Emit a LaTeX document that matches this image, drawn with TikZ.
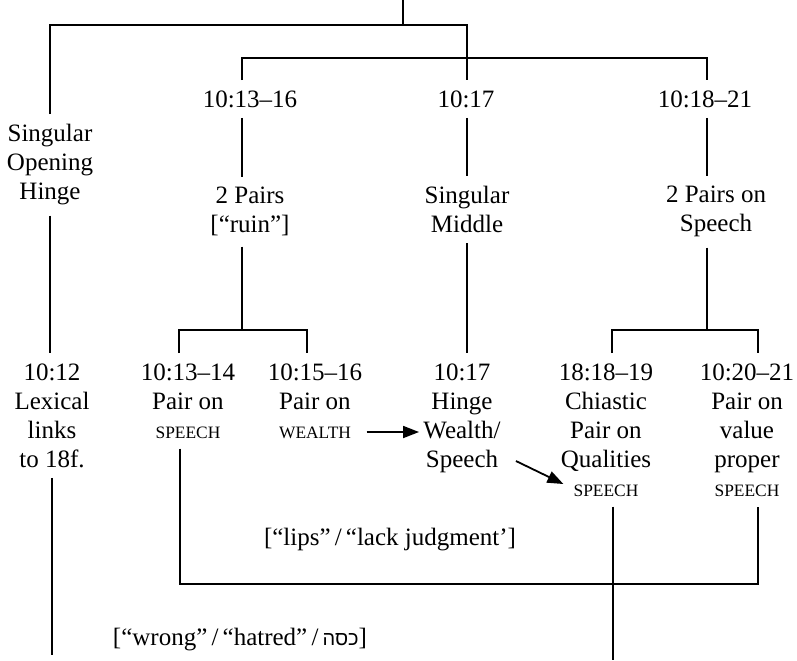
\documentclass[tikz,border=0pt]{standalone}
\usepackage{fontspec}
\setmainfont{Liberation Serif}
\newfontfamily\hebfont[Script=Hebrew]{Liberation Sans}
\TeXXeTstate=1
\usetikzlibrary{arrows.meta}
\newcommand\mysc[1]{{\fontsize{8.7pt}{14.5pt}\selectfont #1}}
\begin{document}
\begin{tikzpicture}[x=0.5pt,y=-0.5pt,
  lbl/.style={font=\fontsize{12.5pt}{14.5pt}\selectfont, align=center, inner xsep=2pt, inner ysep=5pt, anchor=north},
  conn/.style={line width=0.9pt},
  arr/.style={line width=0.9pt, -{Triangle[length=8pt,width=6pt]}}]
\useasboundingbox (0,0) rectangle (797,660);
% rows
\coordinate (r1) at (0,25);
\coordinate (r2) at (0,58);
\coordinate (r3) at (0,330);
\coordinate (r4) at (0,584);
\coordinate (wrow) at (0,432);
\coordinate (srow) at (0,461);
\coordinate (qrow) at (0,484);
\coordinate (top) at (403,0);
% nodes
\node[lbl] (h13) at (250,80) {10:13–16};
\node[lbl] (h17) at (466,80) {10:17};
\node[lbl] (h18) at (705,80) {10:18–21};
\node[lbl] (soh) at (50,114) {Singular\\Opening\\Hinge};
\node[lbl] (p2) at (250,177) {2 Pairs\\{[}“ruin”{]}};
\node[lbl] (sm) at (467,176) {Singular\\Middle};
\node[lbl] (ps) at (716,176) {2 Pairs on\\Speech};
\node[lbl] (c12) at (52,353) {10:12\\Lexical\\links\\to 18f.};
\node[lbl] (c1314) at (188,353) {10:13–14\\Pair on\\\mysc{SPEECH}};
\node[lbl] (c1516) at (315,353) {10:15–16\\Pair on\\\mysc{WEALTH}};
\node[lbl] (c17) at (462,353) {10:17\\Hinge\\Wealth/\\Speech};
\node[lbl] (c1819) at (606,353) {18:18–19\\Chiastic\\Pair on\\Qualities\\\mysc{SPEECH}};
\node[lbl] (c2021) at (747,353) {10:20–21\\Pair on\\value\\proper\\\mysc{SPEECH}};
\node[lbl] (lips) at (390,518) {{[}“lips”\,/\,“lack judgment’{]}};
\node[lbl] (wrong) at (240,618) {{[}“wrong”\,/\,“hatred”\,/\,{\hebfont\fontsize{10pt}{12pt}\selectfont\beginR כסה\endR}{]}};
% helper coordinates on nodes
\coordinate (h13n) at ([xshift=-4pt]h13.north);
\coordinate (h17n) at ([xshift=0.5pt]h17.north);
\coordinate (h18n) at ([xshift=1pt]h18.north);
\coordinate (v1314) at ([xshift=-4.5pt]c1314.north);
\coordinate (v1516) at ([xshift=-4pt]c1516.north);
\coordinate (v1819) at ([xshift=3pt]c1819.north);
\coordinate (v2021) at ([xshift=5.5pt]c2021.north);
\coordinate (b1314) at ([xshift=-4pt]c1314.south);
\coordinate (b1819) at ([xshift=3.5pt]c1819.south);
\coordinate (b2021) at ([xshift=5.5pt]c2021.south);
\coordinate (a2s) at ([xshift=5.5pt]c17.east);
\coordinate (a2e) at ([xshift=4.5pt]c1819.west);
\coordinate (p2s) at ([xshift=-4pt]p2.south);
\coordinate (pss) at ([xshift=-4.5pt]ps.south);
\coordinate (e12) at (52,655);
\coordinate (e1819) at (613,660);
% connectors
\draw[conn] (top) -- (top |- r1);
\draw[conn] (soh.north) |- (h17n |- r1) -- (h17n);
\draw[conn] (h13n) |- (h18n |- r2) -- (h18n);
\draw[conn] ([xshift=-4pt]h13.south) -- ([xshift=-4pt]p2.north);
\draw[conn] ([xshift=0.5pt]h17.south) -- (sm.north);
\draw[conn] ([xshift=1pt]h18.south) -- ([xshift=-4.5pt]ps.north);
\draw[conn] (soh.south) -- (soh.south |- c12.north);
\draw[conn] (p2s) -- (p2s |- r3);
\draw[conn] (v1314) |- (v1516 |- r3) -- (v1516);
\draw[conn] (pss) -- (pss |- r3);
\draw[conn] (v1819) |- (v2021 |- r3) -- (v2021);
\draw[conn] (sm.south) -- (sm.south |- c17.north);
\draw[arr] (c1516.east |- wrow) -- (c17.west |- wrow);
\draw[arr] (a2s |- srow) -- (a2e |- qrow);
\draw[conn] (b1314) |- (b2021 |- r4) -- (b2021);
\draw[conn] (b1819) -- (b1819 |- e1819);
\draw[conn] (c12.south) -- (c12.south |- e12);
\end{tikzpicture}
\end{document}
